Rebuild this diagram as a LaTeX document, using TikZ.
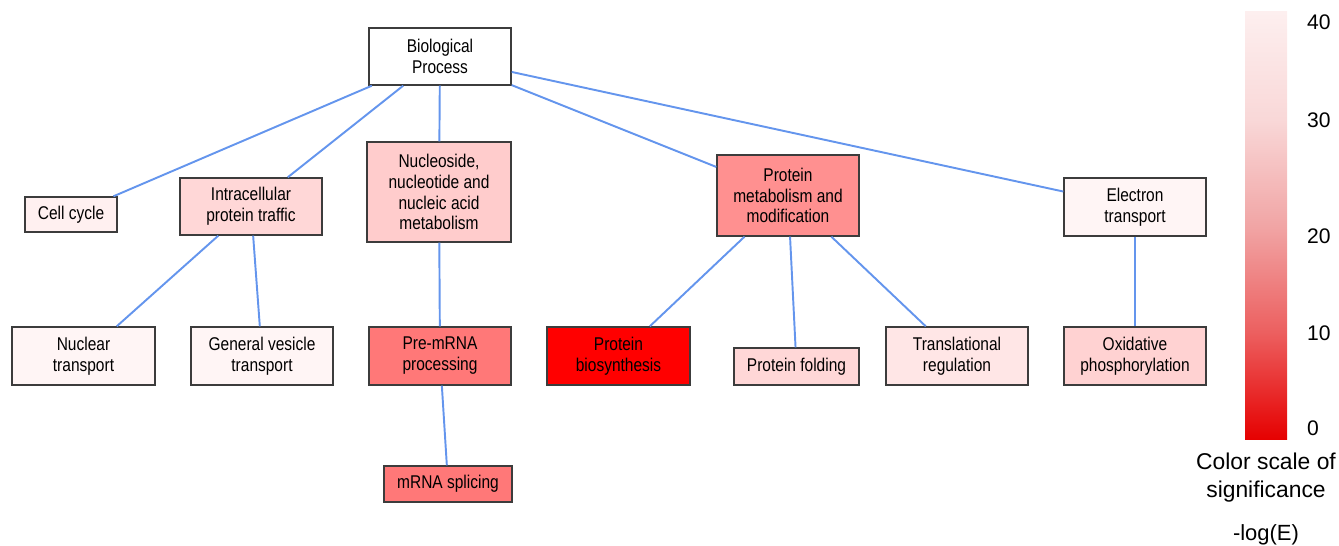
\documentclass[tikz,border=0pt]{standalone}
\usepackage{fontspec}
\setmainfont{Liberation Sans}
\newfontfamily\narrowfont{Liberation Sans}[FakeStretch=0.84]
\usepackage{tikz}
\usepackage{xcolor}

\definecolor{edgeblue}{RGB}{100,149,237}
\definecolor{boxline}{RGB}{60,60,60}
\definecolor{sigA}{RGB}{255,0,0}
\definecolor{sigB}{RGB}{255,120,120}
\definecolor{sigC}{RGB}{255,144,144}
\definecolor{sigD}{RGB}{255,204,204}
\definecolor{sigE}{RGB}{255,210,210}
\definecolor{sigF}{RGB}{255,215,215}
\definecolor{sigG}{RGB}{255,230,230}
\definecolor{sigH}{RGB}{255,240,240}
\definecolor{sigI}{RGB}{255,245,245}

\pgfdeclareverticalshading{sigscale}{100bp}{
  color(0bp)=(sigA!90!black); color(25bp)=(sigA!90!black);
  color(37.5bp)=({rgb,255:red,236;green,95;blue,95});
  color(50bp)=({rgb,255:red,241;green,165;blue,165});
  color(62.5bp)=({rgb,255:red,249;green,216;blue,216});
  color(75bp)=({rgb,255:red,253;green,239;blue,239}); color(100bp)=({rgb,255:red,253;green,239;blue,239})}

\tikzset{
  goterm/.style={shape=rectangle, draw=boxline, line width=0.8pt, inner sep=0pt,
    align=center, font=\narrowfont\fontsize{10.5}{11.9}\selectfont},
  golink/.style={draw=edgeblue, line width=1.1pt},
}

\begin{document}
\begin{tikzpicture}
	\useasboundingbox (0, 0) rectangle (26.78, 10.92);
	% Terms:
	\node[goterm, fill=white, minimum width=2.84cm, minimum height=1.14cm](BP) at (8.80, 9.79){Biological\\Process};
	\node[goterm, fill=sigH, minimum width=1.84cm, minimum height=0.70cm](CC) at (1.42, 6.63){Cell cycle};
	\node[goterm, fill=sigF, minimum width=2.84cm, minimum height=1.14cm](IPT) at (5.02, 6.79){Intracellular\\protein traffic};
	\node[goterm, fill=sigD, minimum width=2.88cm, minimum height=2.00cm](NUC) at (8.78, 7.08){Nucleoside,\\nucleotide and\\nucleic acid\\metabolism};
	\node[goterm, fill=sigC, minimum width=2.84cm, minimum height=1.62cm](PMM) at (15.76, 7.01){Protein\\metabolism and\\modification};
	\node[goterm, fill=sigI, minimum width=2.84cm, minimum height=1.16cm](ET) at (22.70, 6.78){Electron\\transport};
	\node[goterm, fill=sigI, minimum width=2.86cm, minimum height=1.16cm](NT) at (1.67, 3.80){Nuclear\\transport};
	\node[goterm, fill=sigI, minimum width=2.84cm, minimum height=1.16cm](GVT) at (5.24, 3.80){General vesicle\\transport};
	\node[goterm, fill=sigB, minimum width=2.84cm, minimum height=1.16cm](PRE) at (8.80, 3.80){Pre-mRNA\\processing};
	\node[goterm, fill=sigA, minimum width=2.86cm, minimum height=1.16cm](PB) at (12.37, 3.80){Protein\\biosynthesis};
	\node[goterm, fill=sigF, minimum width=2.50cm, minimum height=0.74cm](PF) at (15.93, 3.59){Protein folding};
	\node[goterm, fill=sigG, minimum width=2.84cm, minimum height=1.16cm](TR) at (19.14, 3.80){Translational\\regulation};
	\node[goterm, fill=sigE, minimum width=2.84cm, minimum height=1.16cm](OP) at (22.70, 3.80){Oxidative\\phosphorylation};
	\node[goterm, fill=sigB, minimum width=2.56cm, minimum height=0.72cm](MS) at (8.96, 1.24){mRNA splicing};
	% Links:
	\draw[golink] (BP) -- (CC);
	\draw[golink] (BP) -- (IPT);
	\draw[golink] (BP) -- (NUC);
	\draw[golink] (BP) -- (PMM);
	\draw[golink] (BP) -- (ET);
	\draw[golink] (IPT) -- (NT);
	\draw[golink] (IPT) -- (GVT);
	\draw[golink] (NUC) -- (PRE);
	\draw[golink] (PRE) -- (MS);
	\draw[golink] (PMM) -- (PB);
	\draw[golink] (PMM) -- (PF);
	\draw[golink] (PMM) -- (TR);
	\draw[golink] (ET) -- (OP);
	% Colour scale:
	\shade[shading=sigscale] (24.90, 2.12) rectangle (25.74, 10.68);
	\node[anchor=west, font=\fontsize{12}{14}\selectfont](L40) at (26.02, 10.48){40};
	\node[anchor=west, font=\fontsize{12}{14}\selectfont](L30) at (26.02, 8.52){30};
	\node[anchor=west, font=\fontsize{12}{14}\selectfont](L20) at (26.02, 6.20){20};
	\node[anchor=west, font=\fontsize{12}{14}\selectfont](L10) at (26.02, 4.26){10};
	\node[anchor=west, font=\fontsize{12}{14}\selectfont](L0) at (26.02, 2.36){0};
	\node[align=center, font=\fontsize{13}{15.5}\selectfont](CAP) at (25.32, 1.37){Color scale of\\significance};
	\node[font=\fontsize{12.5}{15}\selectfont](LOG) at (25.32, 0.22){-log(E)};
\end{tikzpicture}
\end{document}
